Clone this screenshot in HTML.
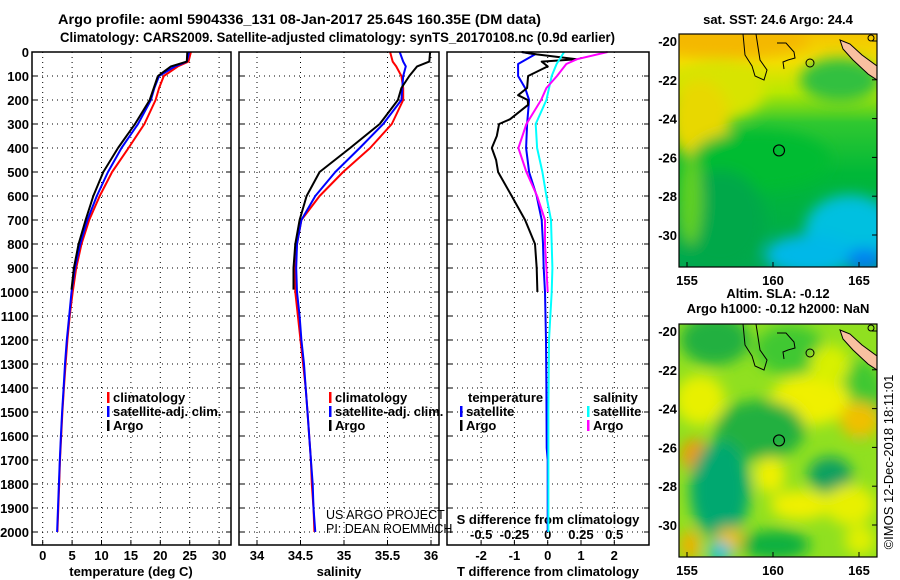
<!DOCTYPE html>
<html><head><meta charset="utf-8">
<style>
html,body{margin:0;padding:0;background:#fff;}
svg{display:block;font-family:"Liberation Sans",sans-serif;}
.b{font-weight:bold;font-size:13px;}
.n{font-size:12.5px;}
</style></head>
<body>
<svg id="fig" width="900" height="580" viewBox="0 0 900 580" xmlns="http://www.w3.org/2000/svg">
<defs>
<filter id="blur6" x="-50%" y="-50%" width="200%" height="200%"><feGaussianBlur stdDeviation="7"/></filter>
<clipPath id="clipTop"><rect x="679" y="34" width="198" height="233"/></clipPath>
<clipPath id="clipBot"><rect x="679" y="324" width="198" height="233"/></clipPath>
<linearGradient id="sstBase" x1="0" y1="0" x2="0" y2="1">
<stop offset="0" stop-color="#f4c400"/><stop offset="0.12" stop-color="#f2e000"/><stop offset="0.25" stop-color="#b8e800"/><stop offset="0.38" stop-color="#30c830"/><stop offset="0.6" stop-color="#00b838"/><stop offset="1" stop-color="#00a850"/>
</linearGradient>
</defs>
<text x="58" y="24" textLength="483" lengthAdjust="spacingAndGlyphs" class="b" style="font-size:14px">Argo profile: aoml 5904336_131 08-Jan-2017 25.64S 160.35E (DM data)</text>
<text x="60" y="42" textLength="555" lengthAdjust="spacingAndGlyphs" class="b" style="font-size:14px">Climatology: CARS2009. Satellite-adjusted climatology: synTS_20170108.nc (0.9d earlier)</text>
<g id="panels"></g>
<g id="maps"></g>
<text transform="translate(893,462) rotate(-90)" text-anchor="middle" style="font-size:13px">©IMOS 12-Dec-2018 18:11:01</text>
</svg>
<script>
// ---- data ----
const depthTicks = [0,100,200,300,400,500,600,700,800,900,1000,1100,1200,1300,1400,1500,1600,1700,1800,1900,2000];
const tDepth = [0,40,60,100,150,200,300,400,500,600,700,800,900,1000,1100,1200,1300,1400,1500,1600,1700,1800,1900,2000];
const tClim = [25.2,24.8,23,20.6,19.8,19.2,17.3,14.6,11.8,9.7,7.9,6.6,5.7,5.1,4.6,4.2,3.9,3.6,3.35,3.15,2.95,2.8,2.65,2.5];
const tSat = [24.9,24.5,22.5,19.8,19.0,18.4,16.2,13.4,11.1,9.2,7.6,6.4,5.5,4.9,4.5,4.1,3.8,3.55,3.3,3.1,2.9,2.75,2.6,2.45];
const argoDepth = [0,40,60,100,150,200,300,400,500,600,700,800,900,990];
const tArgo = [24.6,24.5,21.8,19.6,18.9,18.2,15.7,12.8,10.3,8.6,7.3,6.1,5.3,4.9];
const sClim = [35.53,35.56,35.60,35.66,35.68,35.68,35.55,35.30,34.99,34.72,34.51,34.46,34.44,34.44,34.47,34.50,34.53,34.56,34.58,34.60,34.62,34.63,34.65,34.66];
const sSat = [35.64,35.68,35.71,35.68,35.67,35.66,35.45,35.18,34.90,34.67,34.51,34.46,34.45,34.46,34.49,34.51,34.54,34.56,34.58,34.60,34.62,34.64,34.65,34.67];
const sArgo = [35.99,35.98,35.84,35.75,35.66,35.62,35.41,35.07,34.72,34.57,34.49,34.44,34.42,34.42];
const dtArgoDepth = [0,10,30,40,60,100,150,180,200,220,280,300,350,400,450,500,600,700,800,900,1000];
const dtArgo = [-0.78,-0.33,0.87,-0.18,0,-0.59,-0.62,-0.89,-0.6,-0.59,-1.13,-1.46,-1.53,-1.68,-1.55,-1.49,-1.08,-0.68,-0.38,-0.33,-0.31];
const dtSatDepth = [0,10,50,100,150,200,300,400,500,600,700,800,900,1000,1200,1400,1650,1700,2000];
const dtSat = [-0.78,-0.38,-0.89,-0.89,-0.68,-0.56,-0.62,-0.65,-0.56,-0.33,-0.18,-0.14,-0.12,-0.08,-0.05,-0.04,-0.03,0,0];
const dsSatDepth = [0,50,100,200,300,400,500,600,700,800,900,1000,1200,1500,2000];
const dsSat = [0.123,0.067,0.03,-0.01,-0.09,-0.08,-0.04,-0.01,0.025,0.03,0.035,0.03,0.01,0.005,0.005];
const dsArgoDepth = [0,30,50,100,150,200,300,400,500,600,700,800,900,1000];
const dsArgo = [0.45,0.22,0.14,0.07,-0.01,-0.05,-0.16,-0.22,-0.16,-0.08,-0.02,-0.02,-0.01,0];
const tTicks = [0,5,10,15,20,25,30];
const sTicks = [34,34.5,35,35.5,36];
const sTickLabels = ["34","34.5","35","35.5","36"];
const dtTicks = [-2,-1,0,1,2];
const dsTicks = [-0.5,-0.25,0,0.25,0.5];
const dsTickLabels = ["-0.5","-0.25","0","0.25","0.5"];
const latTicks = [-20,-22,-24,-26,-28,-30];
const lonTicks = [155,160,165];
const argoLon = 160.35, argoLat = -25.64;

const NS = "http://www.w3.org/2000/svg";
function mk(tag, attrs, parent){const e=document.createElementNS(NS,tag);for(const k in attrs)e.setAttribute(k,attrs[k]);parent.appendChild(e);return e;}
const P = document.getElementById('panels');
const yD = d => 52 + d*0.24;
const PT=52, PB=545;
const xT = v => 42.7 + v*5.88;
const xS = v => 257 + (v-34)*87;
const xDT = v => 547.7 + v*33.3;
const xDS = v => 547.7 + v*133;

function frame(x0,x1,name){
  const g=mk('g',{},P);
  
  
  depthTicks.forEach(d=>{ mk('line',{x1:x0,x2:x1,y1:yD(d),y2:yD(d),stroke:'#000','stroke-width':1,'stroke-dasharray':'1,4'},g);
    mk('line',{x1:x0,x2:x0+5,y1:yD(d),y2:yD(d),stroke:'#000'},g); mk('line',{x1:x1-5,x2:x1,y1:yD(d),y2:yD(d),stroke:'#000'},g);});
  return g;
}
function vgrid(g,xs){xs.forEach(x=>{mk('line',{x1:x,x2:x,y1:PT,y2:PB,stroke:'#000','stroke-dasharray':'1,4'},g);
  mk('line',{x1:x,x2:x,y1:PB-5,y2:PB,stroke:'#000'},g);});}
function border(g,x0,x1){mk('rect',{x:x0,y:PT,width:x1-x0,height:PB-PT,fill:'none',stroke:'#000','stroke-width':1.5},g);}
function line(g,xs,ds,fx,color,name,w){
  const pts=xs.map((v,i)=>fx(v).toFixed(1)+','+yD(ds[i]).toFixed(1)).join(' ');
  const p=mk('polyline',{points:pts,fill:'none',stroke:color,'stroke-width':w||2,'stroke-linejoin':'round'},g);
  
  
}
function txt(g,x,y,s,anchor,cls,name){const t=mk('text',{x:x,y:y,'text-anchor':anchor||'start',class:cls},g);t.textContent=s;
  
  return t;}
function legendRow(g,x,y,color,label,name){mk('rect',{x:x,y:y-10,width:2.5,height:11,fill:color},g);txt(g,x+6,y,label,'start','b',name);}

// Panel 1: temperature
let g1=frame(32,231,'temperature-panel');
vgrid(g1,tTicks.map(xT));
depthTicks.forEach(d=>txt(g1,29,yD(d)+5,String(d),'end','b','depth-tick-label'));
tTicks.forEach(v=>txt(g1,xT(v),560,String(v),'middle','b','temperature-tick-label'));
txt(g1,131,576,'temperature (deg C)','middle','b','x-axis-title-temperature');
line(g1,tClim,tDepth,xT,'#ff0000','temperature-climatology-line');
line(g1,tSat,tDepth,xT,'#0000ff','temperature-satellite-line');
line(g1,tArgo,argoDepth,xT,'#000000','temperature-argo-line');
border(g1,32,231);
legendRow(g1,107,402,'#ff0000','climatology','legend-climatology');
legendRow(g1,107,416,'#0000ff','satellite-adj. clim.','legend-satellite');
legendRow(g1,107,430,'#000000','Argo','legend-argo');

// Panel 2: salinity
let g2=frame(239,439,'salinity-panel');
vgrid(g2,sTicks.map(xS));
sTicks.forEach((v,i)=>txt(g2,xS(v),560,sTickLabels[i],'middle','b','salinity-tick-label'));
txt(g2,339,576,'salinity','middle','b','x-axis-title-salinity');
line(g2,sClim,tDepth,xS,'#ff0000','salinity-climatology-line');
line(g2,sSat,tDepth,xS,'#0000ff','salinity-satellite-line');
line(g2,sArgo,argoDepth,xS,'#000000','salinity-argo-line');
border(g2,239,439);
legendRow(g2,329,402,'#ff0000','climatology','legend-climatology-2');
legendRow(g2,329,416,'#0000ff','satellite-adj. clim.','legend-satellite-2');
legendRow(g2,329,430,'#000000','Argo','legend-argo-2');
txt(g2,326,519,'US ARGO PROJECT','start','n','credit-project');
txt(g2,326,533,'PI: DEAN ROEMMICH','start','n','credit-pi');

// Panel 3: differences
let g3=frame(447,649,'difference-panel');
vgrid(g3,dtTicks.map(xDT));
dtTicks.forEach(v=>txt(g3,xDT(v),560,String(v),'middle','b','t-diff-tick-label'));
dsTicks.forEach((v,i)=>txt(g3,xDS(v),539,dsTickLabels[i],'middle','b','s-diff-tick-label'));
txt(g3,548,524,'S difference from climatology','middle','b','s-diff-axis-title');
txt(g3,548,576,'T difference from climatology','middle','b','t-diff-axis-title');
line(g3,dtSat,dtSatDepth,xDT,'#0000ff','t-diff-satellite-line');
line(g3,dtArgo,dtArgoDepth,xDT,'#000000','t-diff-argo-line');
line(g3,dsSat,dsSatDepth,xDS,'#00ffff','s-diff-satellite-line');
line(g3,dsArgo,dsArgoDepth,xDS,'#ff00ff','s-diff-argo-line');
border(g3,447,649);
txt(g3,468,402,'temperature','start','b','legend-temperature-header');
legendRow(g3,460,416,'#0000ff','satellite','legend-t-satellite');
legendRow(g3,460,430,'#000000','Argo','legend-t-argo');
txt(g3,593,402,'salinity','start','b','legend-salinity-header');
legendRow(g3,587,416,'#00ffff','satellite','legend-s-satellite');
legendRow(g3,587,430,'#ff00ff','Argo','legend-s-argo');

// ---- maps ----
const M=document.getElementById('maps');
const lonX = l => 687 + (l-155)*17.2;
function drawMap(off, name, title1, title2, blobs, base){
  const g=mk('g',{},M);
  
  
  const latY = la => off + 41 + (-20-la)*19.4;
  const c=mk('g',{'clip-path':'url(#'+(off?'clipBot':'clipTop')+')'},g);
  mk('rect',{x:679,y:off+34,width:198,height:233,fill:base},c);
  const bg=mk('g',{filter:'url(#blur6)'},c);
  blobs.forEach(b=>mk('ellipse',{cx:b[0],cy:b[1]+off,rx:b[2],ry:b[3],fill:b[4]},bg));
  mk('polygon',{points:[[840,40],[850,44],[862,55],[877,66],[877,80],[868,74],[853,60],[843,49]].map(p=>p[0]+','+(p[1]+off)).join(' '),fill:'#f8c0a0',stroke:'#000','stroke-width':1},c);
  mk('path',{d:`M743 ${off+34} L745 ${off+55} L752 ${off+66} L755 ${off+76} L764 ${off+80} L767 ${off+70} L760 ${off+60} L756 ${off+34}`,fill:'none',stroke:'#000','stroke-width':1},c);
  mk('path',{d:`M777 ${off+43} L786 ${off+43} L794 ${off+52} L795 ${off+58} L788 ${off+60} L783 ${off+62} L784 ${off+69}`,fill:'none',stroke:'#000','stroke-width':1},c);
  mk('ellipse',{cx:810,cy:off+63,rx:4,ry:4,fill:'none',stroke:'#000'},c);
  mk('ellipse',{cx:871,cy:off+38,rx:3,ry:3,fill:'none',stroke:'#000'},c);
  const circ=mk('circle',{cx:lonX(argoLon),cy:latY(argoLat),r:5.5,fill:'none',stroke:'#000','stroke-width':1.2},g);
  
  
  mk('rect',{x:679,y:off+34,width:198,height:233,fill:'none',stroke:'#000','stroke-width':1.2},g);
  latTicks.forEach(la=>{txt(g,677,latY(la)+5,String(la),'end','b','latitude-tick-label');
    mk('line',{x1:877,x2:872,y1:latY(la),y2:latY(la),stroke:'#000'},g);});
  lonTicks.forEach(lo=>{txt(g,lonX(lo),off+285,String(lo),'middle','b','longitude-tick-label');
    mk('line',{x1:lonX(lo),x2:lonX(lo),y1:off+267,y2:off+262,stroke:'#000'},g);});
  if(title1) txt(g,778,off+(title2?8:24),title1,'middle','b','map-title');
  if(title2) txt(g,778,off+23,title2,'middle','b','map-subtitle');
}
drawMap(0,'sst-map','sat. SST: 24.6 Argo: 24.4',null,[
 [730,40,80,18,'#f4b800'],[720,90,45,30,'#d8e400'],[700,120,30,40,'#e8d800'],[840,80,40,22,'#30c040'],
 [760,160,70,30,'#00bc30'],[720,220,45,50,'#00a848'],[850,230,45,35,'#00c0e0'],[810,255,45,20,'#00b8e8'],
 [865,260,18,12,'#0080f0'],[690,200,12,45,'#60d020']
],'url(#sstBase)');
drawMap(290,'sla-map','Altim. SLA: -0.12','Argo h1000: -0.12 h2000: NaN',[
 [715,50,35,25,'#20b040'],[790,60,35,25,'#40c830'],[860,110,25,40,'#40c830'],[700,110,25,25,'#e8f000'],
 [810,110,40,25,'#f0f000'],[830,75,20,20,'#d8f000'],[860,130,20,18,'#f0c000'],[760,140,45,30,'#20b040'],
 [695,165,14,16,'#f09800'],[725,200,20,35,'#00b0f0'],[720,200,30,50,'#00a870'],[830,185,22,18,'#10a060'],
 [770,185,15,18,'#f0f000'],[800,215,30,15,'#f0f000'],[850,215,25,20,'#e8f000'],[730,250,15,12,'#f0c000'],
 [775,255,35,15,'#10b040'],[690,255,10,15,'#f0b000'],[720,262,12,10,'#00c0e0'],[860,250,15,15,'#e0f000']
],'#90e020');
</script>
</body></html>
